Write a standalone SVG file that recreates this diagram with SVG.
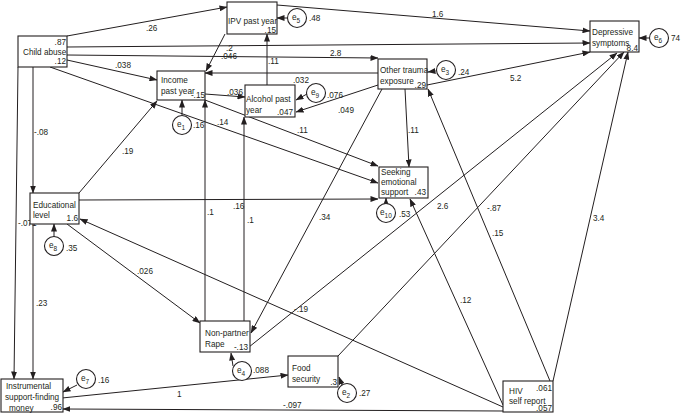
<svg xmlns="http://www.w3.org/2000/svg" width="685" height="413" viewBox="0 0 685 413">
<defs>
<marker id="ah" markerUnits="userSpaceOnUse" markerWidth="8" markerHeight="6" refX="7.5" refY="3" orient="auto">
<path d="M0,0 L8,3 L0,6 z" fill="#231f20"/>
</marker>
<style>
rect.n{fill:#fff;stroke:#231f20;stroke-width:1.1}
circle.e{fill:#fff;stroke:#231f20;stroke-width:1.1}
text{font-family:"Liberation Sans",Arial,sans-serif;font-size:8.2px;fill:#231f20}
.c line,.c path{stroke:#231f20;stroke-width:1;fill:none;marker-end:url(#ah)}
.r{text-anchor:end}
.s{font-size:6.5px}
</style>
</defs>
<rect width="685" height="413" fill="#fff"/>

<g class="c" id="connectors">
<line x1="67" y1="36" x2="227" y2="7"/>
<line x1="277" y1="5" x2="590" y2="31"/>
<line x1="67" y1="47" x2="590" y2="43"/>
<line x1="67" y1="55" x2="378" y2="58"/>
<line x1="67" y1="60" x2="157" y2="80"/>
<line x1="50" y1="67" x2="378" y2="183"/>
<line x1="33" y1="67" x2="33" y2="193"/>
<line x1="18" y1="67" x2="14" y2="379"/>
<line x1="79" y1="193" x2="157" y2="101"/>
<line x1="79" y1="200" x2="378" y2="199"/>
<line x1="67" y1="224" x2="200" y2="323"/>
<line x1="33" y1="224" x2="33" y2="379"/>
<line x1="503" y1="407" x2="80" y2="219"/>
<line x1="503" y1="411" x2="63" y2="409"/>
<line x1="553" y1="381" x2="628" y2="52"/>
<line x1="550" y1="381" x2="428" y2="89"/>
<line x1="503" y1="405" x2="410" y2="199"/>
<line x1="338" y1="356" x2="624" y2="52"/>
<line x1="249" y1="347" x2="617" y2="53"/>
<line x1="382" y1="89" x2="251" y2="333"/>
<line x1="405" y1="89" x2="409" y2="167"/>
<line x1="427" y1="85" x2="590" y2="52"/>
<line x1="378" y1="73" x2="205" y2="73"/>
<line x1="378" y1="85" x2="296" y2="112"/>
<line x1="267" y1="85" x2="267" y2="34"/>
<line x1="205" y1="94" x2="245" y2="97"/>
<line x1="225" y1="34" x2="206" y2="71"/>
<line x1="205" y1="321" x2="205" y2="100"/>
<line x1="244" y1="321" x2="244" y2="117"/>
<line x1="62" y1="398" x2="288" y2="375"/>
<line x1="205" y1="100" x2="378" y2="166"/>
<line x1="287" y1="18" x2="277" y2="18"/>
<line x1="649" y1="38" x2="639" y2="38"/>
<line x1="182" y1="115" x2="182" y2="100"/>
<line x1="307" y1="94" x2="296" y2="100"/>
<line x1="436" y1="71" x2="428" y2="72"/>
<line x1="386" y1="204" x2="386" y2="198"/>
<line x1="54" y1="237" x2="54" y2="224"/>
<line x1="233" y1="366" x2="231" y2="353"/>
<line x1="342" y1="385" x2="339" y2="377"/>
<line x1="77" y1="385" x2="63" y2="392"/>
</g>

<g id="labels">
<text x="146" y="31">.26</text>
<text x="432" y="17">1.6</text>
<text x="226" y="51">.2</text>
<text x="221" y="59">.046</text>
<text x="330" y="56">2.8</text>
<text x="115" y="68">.038</text>
<text x="268" y="64">.11</text>
<text x="293" y="83">.032</text>
<text x="227" y="95">.036</text>
<text x="338" y="113">.049</text>
<text x="510" y="81">5.2</text>
<text x="217" y="125">.14</text>
<text x="297" y="133">.11</text>
<text x="408" y="133">.11</text>
<text x="34" y="135">-.08</text>
<text x="122" y="154">.19</text>
<text x="233" y="209">.16</text>
<text x="207" y="215">.1</text>
<text x="247" y="223">.1</text>
<text x="319" y="220">.34</text>
<text x="437" y="209">2.6</text>
<text x="487" y="211">-.87</text>
<text x="492" y="236">.15</text>
<text x="593" y="221">3.4</text>
<text x="18" y="226">-.071</text>
<text x="137" y="274">.026</text>
<text x="36" y="306">.23</text>
<text x="294" y="312">-.19</text>
<text x="460" y="303">.12</text>
<text x="177" y="397">1</text>
<text x="283" y="408">-.097</text>
</g>

<g id="child_abuse"><rect class="n" x="18" y="36" width="49" height="31"/><text x="23" y="55">Child abuse</text><text class="r" x="66" y="45">.87</text><text class="r" x="66" y="64">.12</text></g>
<g id="ipv"><rect class="n" x="227" y="2" width="50" height="32"/><text x="228" y="24">IPV past year</text><text class="r" x="276" y="32.5">.15</text></g>
<g id="depressive"><rect class="n" x="590" y="21" width="49" height="31"/><text x="592" y="35">Depressive</text><text x="592" y="45.5">symptoms</text><text class="r" x="638" y="51">8.4</text></g>
<g id="income"><rect class="n" x="157" y="71" width="48" height="29"/><text x="161" y="83">Income</text><text x="161" y="94">past year</text><text class="r" x="205" y="98">-.15</text></g>
<g id="alcohol"><rect class="n" x="245" y="85" width="50" height="32"/><text x="246" y="102">Alcohol past</text><text x="246" y="113">year</text><text class="r" x="293" y="115">.047</text></g>
<g id="other_trauma"><rect class="n" x="378" y="59" width="49" height="30"/><text x="380" y="73">Other trauma</text><text x="380" y="84">exposure</text><text class="r" x="426" y="88">.29</text></g>
<g id="seeking"><rect class="n" x="379" y="167" width="49" height="31"/><text x="381" y="175">Seeking</text><text x="381" y="185">emotional</text><text x="381" y="195">support</text><text class="r" x="426" y="195">.43</text></g>
<g id="educational"><rect class="n" x="30" y="193" width="49" height="31"/><text x="33" y="208">Educational</text><text x="33" y="218">level</text><text class="r" x="78" y="221">1.6</text></g>
<g id="rape"><rect class="n" x="200" y="321" width="50" height="31"/><text x="205" y="336">Non-partner</text><text x="205" y="347">Rape</text><text class="r" x="248" y="350">-.13</text></g>
<g id="food"><rect class="n" x="288" y="356" width="50" height="31"/><text x="292" y="371">Food</text><text x="292" y="382">security</text><text class="r" x="337" y="385">.3</text></g>
<g id="instrumental"><rect class="n" x="1" y="379" width="62" height="33"/><text x="6" y="389">Instrumental</text><text x="5" y="400">support-finding</text><text x="9" y="411">money</text><text class="r" x="62" y="410">.96</text></g>
<g id="hiv"><rect class="n" x="503" y="381" width="50" height="31"/><text x="509" y="394">HIV</text><text x="509" y="404">self report</text><text class="r" x="552" y="391">.061</text><text class="r" x="552" y="411">.057</text></g>

<g id="e5"><circle class="e" cx="297" cy="18" r="9.5"/><text x="292" y="20">e<tspan class="s" dy="3">5</tspan></text><text x="309" y="21">.48</text></g>
<g id="e6"><circle class="e" cx="659" cy="38" r="9.5"/><text x="654" y="40">e<tspan class="s" dy="3">6</tspan></text><text x="671" y="41">74</text></g>
<g id="e1"><circle class="e" cx="182" cy="125" r="9.5"/><text x="177" y="127">e<tspan class="s" dy="3">1</tspan></text><text x="193" y="128">.16</text></g>
<g id="e9"><circle class="e" cx="316" cy="93" r="9.5"/><text x="311" y="95">e<tspan class="s" dy="3">9</tspan></text><text x="327" y="98">.076</text></g>
<g id="e3"><circle class="e" cx="446" cy="70" r="9.5"/><text x="441" y="72">e<tspan class="s" dy="3">3</tspan></text><text x="458" y="75">.24</text></g>
<g id="e10"><circle class="e" cx="386" cy="213" r="9.5"/><text x="380" y="215">e<tspan class="s" dy="3">10</tspan></text><text x="399" y="217">.53</text></g>
<g id="e8"><circle class="e" cx="54" cy="246" r="9.5"/><text x="49" y="248">e<tspan class="s" dy="3">8</tspan></text><text x="66" y="251">.35</text></g>
<g id="e4"><circle class="e" cx="242" cy="371" r="9.5"/><text x="237" y="373">e<tspan class="s" dy="3">4</tspan></text><text x="253" y="373">.088</text></g>
<g id="e2"><circle class="e" cx="347" cy="393" r="9.5"/><text x="342" y="395">e<tspan class="s" dy="3">2</tspan></text><text x="359" y="396">.27</text></g>
<g id="e7"><circle class="e" cx="86" cy="379" r="9.5"/><text x="81" y="381">e<tspan class="s" dy="3">7</tspan></text><text x="98" y="383">.16</text></g>
</svg>
